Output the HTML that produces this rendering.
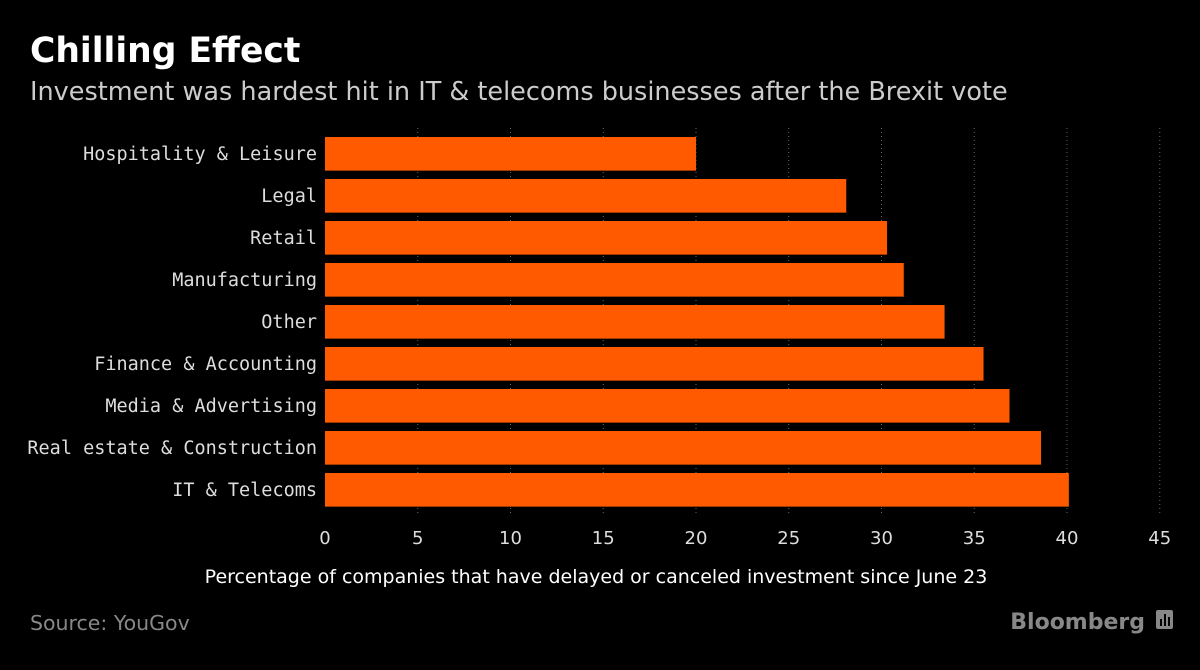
<!DOCTYPE html>
<html><head><meta charset="utf-8"><style>
body{margin:0;background:#000;width:1200px;height:666px;overflow:hidden;font-family:"DejaVu Sans","Liberation Sans",sans-serif;}
</style></head><body>
<svg width="1200" height="666">
<text x="30" y="62" fill="#fff" font-size="34.5" font-weight="bold" font-family="DejaVu Sans, sans-serif">Chilling Effect</text>
<text x="30" y="100" fill="#ccc" font-size="25.5" font-family="DejaVu Sans, sans-serif">Investment was hardest hit in IT &amp; telecoms businesses after the Brexit vote</text>
<g id="grid"></g><g id="bars"></g><g id="ylabels"></g><g id="xticks"></g>
<text x="596" y="583" fill="#fff" font-size="19" text-anchor="middle" font-family="DejaVu Sans, sans-serif">Percentage of companies that have delayed or canceled investment since June 23</text>
<text x="30" y="630" fill="#888" font-size="20.5" font-family="DejaVu Sans, sans-serif">Source: YouGov</text>
<text x="1145" y="629" fill="#888" font-size="22" font-weight="bold" text-anchor="end" font-family="DejaVu Sans, sans-serif">Bloomberg</text>
<g><rect x="1156" y="610" width="17" height="19" rx="2" fill="#888"/><rect x="1160" y="619" width="2" height="7" fill="#000"/><rect x="1164" y="614" width="2" height="12" fill="#000"/><rect x="1168" y="617" width="2" height="9" fill="#000"/></g>
</svg>
<script>
const categories=["Hospitality & Leisure","Legal","Retail","Manufacturing","Other","Finance & Accounting","Media & Advertising","Real estate & Construction","IT & Telecoms"];
const values=[20,28.1,30.3,31.2,33.4,35.5,36.9,38.6,40.1];
const ticks=[0,5,10,15,20,25,30,35,40,45];
const NS="http://www.w3.org/2000/svg";
const x0=325,xs=18.55,y0=137,step=42,bh=34;
const X=v=>x0+v*xs;
function mk(t,a,p){const e=document.createElementNS(NS,t);for(const k in a)e.setAttribute(k,a[k]);p.appendChild(e);return e;}
const grid=document.getElementById('grid'),bars=document.getElementById('bars'),yl=document.getElementById('ylabels'),xt=document.getElementById('xticks');
ticks.forEach(t=>{
 if(t>0){const l=mk('line',{x1:X(t),x2:X(t),y1:128,y2:514,stroke:'#666','stroke-width':1,'stroke-dasharray':'1,3'},grid);
 
 }
 const tx=mk('text',{x:X(t),y:544,fill:'#ddd','font-size':18,'text-anchor':'middle','font-family':'DejaVu Sans, sans-serif'},xt);
 tx.textContent=t;
 
 
});
categories.forEach((c,i)=>{
 const y=y0+i*step;
 const r=mk('rect',{x:X(0),y:y,width:X(values[i])-X(0),height:bh,fill:'#ff5a00'},bars);
 
 
 const b=mk('rect',{x:X(0),y:y+bh-1,width:X(values[i])-X(0),height:1,fill:'#a33a00'},bars);
 
 
 const t=mk('text',{x:317,y:y+bh/2+6,fill:'#ddd','font-size':18.5,'text-anchor':'end','font-family':'DejaVu Sans Mono, Liberation Mono, monospace'},yl);
 t.textContent=c;
 
 
});
</script>
</body></html>
